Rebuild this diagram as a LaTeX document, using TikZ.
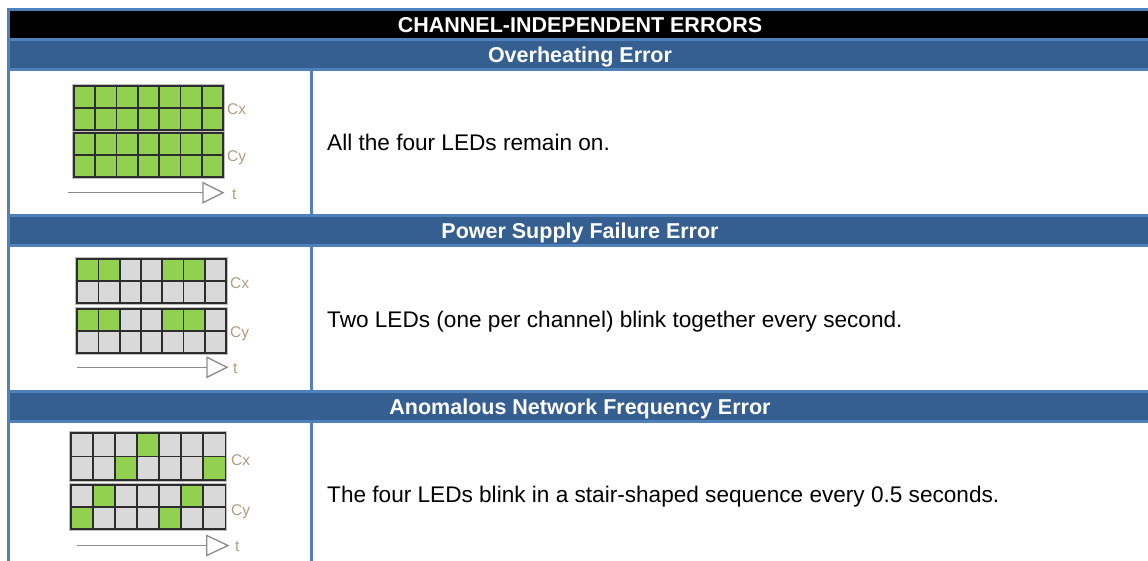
\documentclass[tikz,border=0pt]{standalone}
\usepackage{fontspec}
\setmainfont{Liberation Sans}
\definecolor{bordc}{RGB}{79,129,189}
\definecolor{bandc}{RGB}{54,95,145}
\definecolor{ledon}{RGB}{146,208,80}
\definecolor{ledoff}{RGB}{217,217,217}
\definecolor{gridc}{RGB}{45,45,45}
\definecolor{haloc}{RGB}{190,190,190}
\definecolor{labc}{RGB}{176,156,128}
\definecolor{axc}{RGB}{140,140,140}
\tikzset{
  hdr/.style={text=white,font=\fontsize{21.5}{25}\selectfont\bfseries,anchor=base,inner sep=0pt},
  body/.style={text=black,font=\fontsize{22.6}{27}\selectfont,anchor=base west,inner sep=0pt},
  lab/.style={text=labc,font=\fontsize{15.5}{18}\selectfont,anchor=base west,inner sep=0pt},
  ledcell/.style={draw=gridc,line width=1.7pt},
  ledhalo/.style={draw=haloc,line width=1pt},
  axline/.style={draw=axc,line width=1.3pt},
}
\newcommand\ledgrid[6]{%
  \draw[ledhalo] ({#1-1.5},{#2-1.5}) rectangle ({#1+7*#3+1.5},{#2+2*#4+1.5});
  \foreach \c [count=\i from 0] in {#5}{\path[ledcell,fill=\c] ({#1+\i*#3},{#2}) rectangle ++(#3,#4);}
  \foreach \c [count=\i from 0] in {#6}{\path[ledcell,fill=\c] ({#1+\i*#3},{#2+#4}) rectangle ++(#3,#4);}
}
\newcommand\taxis[4]{%
  \draw[axline] (#1,#4) -- (#2,#4);
  \draw[axline,fill=white,line join=miter] (#2,{#4-10}) -- (#3,#4) -- (#2,{#4+10}) -- cycle;
}
\begin{document}
\begin{tikzpicture}[x=1pt,y=-1pt]
\useasboundingbox (0,0) rectangle (1148,560);
\clip (0,0) rectangle (1148,560);
% table frame
\fill[bordc] (7,8) rectangle (1151,566);
\fill[black] (10,11) rectangle (1148,38);
\fill[bandc] (10,41) rectangle (1148,68);
\fill[white] (10,71) rectangle (310,214);
\fill[white] (313,71) rectangle (1148,214);
\fill[bandc] (10,217) rectangle (1148,244);
\fill[white] (10,247) rectangle (310,390);
\fill[white] (313,247) rectangle (1148,390);
\fill[bandc] (10,393) rectangle (1148,420);
\fill[white] (10,423) rectangle (310,563);
\fill[white] (313,423) rectangle (1148,563);
% headers
\node[hdr] (title) at (580,32.1) {CHANNEL-INDEPENDENT ERRORS};
\node[hdr] (h1) at (580,62.1) {Overheating Error};
\node[hdr] (h2) at (580,238.1) {Power Supply Failure Error};
\node[hdr] (h3) at (580,414.1) {Anomalous Network Frequency Error};
% descriptions
\node[body] (d1) at (327,150.7) {All the four LEDs remain on.};
\node[body] (d2) at (327,327.3) {Two LEDs (one per channel) blink together every second.};
\node[body] (d3) at (327,502.7) {The four LEDs blink in a stair-shaped sequence every 0.5 seconds.};
% row 1 grids
\ledgrid{74}{86}{21.3}{22}{ledon,ledon,ledon,ledon,ledon,ledon,ledon}{ledon,ledon,ledon,ledon,ledon,ledon,ledon}
\ledgrid{74}{133.3}{21.3}{22}{ledon,ledon,ledon,ledon,ledon,ledon,ledon}{ledon,ledon,ledon,ledon,ledon,ledon,ledon}
\taxis{68}{203}{223}{192.7}
\node[lab] (cx1) at (227,114) {Cx};
\node[lab] (cy1) at (227,161) {Cy};
\node[lab] (t1) at (232,199) {t};
% row 2 grids
\ledgrid{77.3}{259.3}{21.24}{22}{ledon,ledon,ledoff,ledoff,ledon,ledon,ledoff}{ledoff,ledoff,ledoff,ledoff,ledoff,ledoff,ledoff}
\ledgrid{77.3}{308.7}{21.24}{22}{ledon,ledon,ledoff,ledoff,ledon,ledon,ledoff}{ledoff,ledoff,ledoff,ledoff,ledoff,ledoff,ledoff}
\taxis{77}{207}{227}{367.3}
\node[lab] (cx2) at (230,288.5) {Cx};
\node[lab] (cy2) at (230,337.5) {Cy};
\node[lab] (t2) at (233,373) {t};
% row 3 grids
\ledgrid{70.7}{433.3}{22.1}{23.3}{ledoff,ledoff,ledoff,ledon,ledoff,ledoff,ledoff}{ledoff,ledoff,ledon,ledoff,ledoff,ledoff,ledon}
\ledgrid{70.7}{485.3}{22.1}{22}{ledoff,ledon,ledoff,ledoff,ledoff,ledon,ledoff}{ledon,ledoff,ledoff,ledoff,ledon,ledoff,ledoff}
\taxis{76.7}{206.7}{228}{545.5}
\node[lab] (cx3) at (231,465) {Cx};
\node[lab] (cy3) at (231,515) {Cy};
\node[lab] (t3) at (235,551) {t};
\end{tikzpicture}
\end{document}
